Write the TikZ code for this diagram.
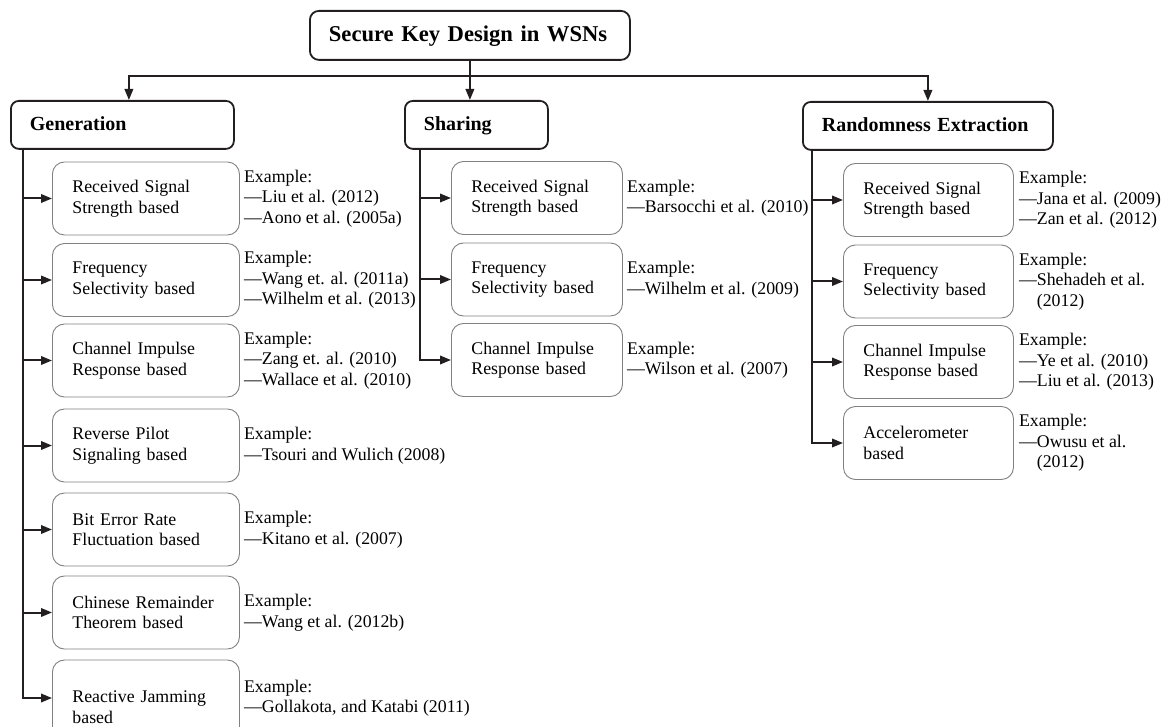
\documentclass[tikz,border=0pt]{standalone}
\usepackage{fontspec}
\setmainfont{Liberation Serif}
\usetikzlibrary{calc,positioning,arrows.meta}
\definecolor{lineclr}{RGB}{35,31,32}
\definecolor{leafclr}{RGB}{128,128,128}
\tikzset{
  conn/.style={draw=lineclr, line width=2pt, -{Triangle[length=11pt,width=8.5pt]}},
  headbox/.style={draw=lineclr, line width=1.8pt, rounded corners=9pt, anchor=north west,
    minimum height=49pt, inner xsep=19pt, inner ysep=0pt, align=left,
    text height=18pt, text depth=5pt,
    font=\fontsize{22.6}{26}\selectfont\bfseries},
  catbox/.style={draw=lineclr, line width=1.8pt, rounded corners=8pt, anchor=north west,
    minimum height=48pt, inner xsep=19pt, inner ysep=0pt, align=left,
    text height=16pt, text depth=4pt,
    font=\fontsize{20}{24}\selectfont\bfseries},
  leafbox/.style={draw=leafclr, line width=0.9pt, rounded corners=12pt, anchor=west,
    minimum height=73pt, inner xsep=20pt, inner ysep=0pt, text width=#1, align=left,
    font=\fontsize{17.8}{20.5}\selectfont},
  leafbox/.default=147pt,
  exlabel/.style={inner sep=0pt, align=left, font=\fontsize{17.8}{20.5}\selectfont}
}

\begin{document}
\begin{tikzpicture}[x=1pt,y=1pt,yscale=-1,xscale=1]
\clip (0,0) rectangle (1168,727);

%Shape: Title box
\node[headbox, text width=282pt] (title) at (309,10) {Secure Key Design in WSNs};

%Shape: Category boxes
\node[catbox, text width=185pt] (gen) at (10,100) {Generation};
\node[catbox, text width=105pt] (sha) at (404,100) {Sharing};
\node[catbox, text width=212pt] (ran) at (802,101) {Randomness Extraction};

%Shape: Generation leaves
\node[leafbox] (g1) at (52,198.5) {Received Signal\\Strength based};
\node[leafbox] (g2) at (52,280) {Frequency\\Selectivity based};
\node[leafbox] (g3) at (52,360.5) {Channel Impulse\\Response based};
\node[leafbox] (g4) at (52,445.5) {Reverse Pilot\\Signaling based};
\node[leafbox] (g5) at (52,529.5) {Bit Error Rate\\Fluctuation based};
\node[leafbox] (g6) at (52,612.5) {Chinese Remainder\\Theorem based};
\node[leafbox, minimum height=94pt] (g7) at (52,707) {Reactive Jamming\\based};

%Shape: Sharing leaves
\node[leafbox=131pt] (s1) at (451,198) {Received Signal\\Strength based};
\node[leafbox=131pt] (s2) at (451,279.5) {Frequency\\Selectivity based};
\node[leafbox=131pt] (s3) at (451,360) {Channel Impulse\\Response based};

%Shape: Randomness leaves
\node[leafbox=130pt] (r1) at (843,200) {Received Signal\\Strength based};
\node[leafbox=130pt] (r2) at (843,281.5) {Frequency\\Selectivity based};
\node[leafbox=130pt] (r3) at (843,362) {Channel Impulse\\Response based};
\node[leafbox=130pt] (r4) at (843,443) {Accelerometer\\based};

% Text Node: examples
\node[exlabel, right=4pt of g1] (g1ex) {Example:\\—Liu et al. (2012)\\—Aono et al. (2005a)};
\node[exlabel, right=4pt of g2] (g2ex) {Example:\\—Wang et. al. (2011a)\\—Wilhelm et al. (2013)};
\node[exlabel, right=4pt of g3] (g3ex) {Example:\\—Zang et. al. (2010)\\—Wallace et al. (2010)};
\node[exlabel, right=4pt of g4] (g4ex) {Example:\\—Tsouri and Wulich (2008)};
\node[exlabel, right=4pt of g5] (g5ex) {Example:\\—Kitano et al. (2007)};
\node[exlabel, right=4pt of g6] (g6ex) {Example:\\—Wang et al. (2012b)};
\node[exlabel, right=4pt of g7, yshift=9pt] (g7ex) {Example:\\—Gollakota, and Katabi (2011)};
\node[exlabel, right=4pt of s1] (s1ex) {Example:\\—Barsocchi et al. (2010)};
\node[exlabel, right=4pt of s2] (s2ex) {Example:\\—Wilhelm et al. (2009)};
\node[exlabel, right=4pt of s3] (s3ex) {Example:\\—Wilson et al. (2007)};
\node[exlabel, right=5pt of r1] (r1ex) {Example:\\—Jana et al. (2009)\\—Zan et al. (2012)};
\node[exlabel, right=5pt of r2] (r2ex) {Example:\\—Shehadeh et al.\\\hphantom{—}(2012)};
\node[exlabel, right=5pt of r3] (r3ex) {Example:\\—Ye et al. (2010)\\—Liu et al. (2013)};
\node[exlabel, right=5pt of r4] (r4ex) {Example:\\—Owusu et al.\\\hphantom{—}(2012)};

%Straight Lines: title to categories
\coordinate (bus) at ($(title.south)+(0,15)$);
\draw[conn] (title.south) -- (title.south |- sha.north);
\draw[conn] (bus) -| ($(gen.north)+(6.5,0)$);
\draw[conn] (bus) -| (ran.north);

%Straight Lines: Generation trunk
\coordinate (gtrunk) at ($(gen.south west)+(13,0)$);
\draw[conn] (gtrunk) |- (g1);
\draw[conn] (gtrunk) |- (g2);
\draw[conn] (gtrunk) |- (g3);
\draw[conn] (gtrunk) |- (g4);
\draw[conn] (gtrunk) |- (g5);
\draw[conn] (gtrunk) |- (g6);
\draw[conn] (gtrunk) |- ($(g7.west)+(0,-9)$);

%Straight Lines: Sharing trunk
\coordinate (strunk) at ($(sha.south west)+(16,0)$);
\draw[conn] (strunk) |- (s1);
\draw[conn] (strunk) |- (s2);
\draw[conn] (strunk) |- (s3);

%Straight Lines: Randomness trunk
\coordinate (rtrunk) at ($(ran.south west)+(10,0)$);
\draw[conn] (rtrunk) |- (r1);
\draw[conn] (rtrunk) |- (r2);
\draw[conn] (rtrunk) |- (r3);
\draw[conn] (rtrunk) |- (r4);

\end{tikzpicture}
\end{document}
